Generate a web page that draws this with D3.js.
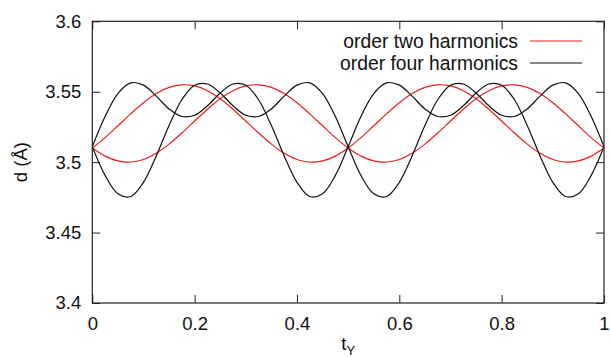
<!DOCTYPE html>
<html>
<head>
<meta charset="utf-8">
<script src="https://cdn.jsdelivr.net/npm/d3@7"></script>
<style>
  html, body { margin: 0; padding: 0; background: #fff; }
  svg { display: block; font-family: "Liberation Sans", Arial, sans-serif; }
</style>
</head>
<body>
<svg id="chart" width="610" height="357"></svg>
<script>
// Phase coordinate t_Y, sampled every 0.025
const tValues = d3.range(0, 41).map(i => +(i * 0.025).toFixed(3));

// Interatomic distance d (Å) along t_Y
const twoHarmA = [3.5100, 3.5174, 3.5258, 3.5343, 3.5422, 3.5487, 3.5531, 3.5549, 3.5541, 3.5507, 3.5450,
                  3.5376, 3.5292, 3.5207, 3.5128, 3.5063, 3.5019, 3.5001, 3.5009, 3.5043, 3.5100,
                  3.5174, 3.5258, 3.5343, 3.5422, 3.5487, 3.5531, 3.5549, 3.5541, 3.5507, 3.5450,
                  3.5376, 3.5292, 3.5207, 3.5128, 3.5063, 3.5019, 3.5001, 3.5009, 3.5043, 3.5100];
const twoHarmB = [3.5100, 3.5043, 3.5009, 3.5001, 3.5019, 3.5063, 3.5128, 3.5207, 3.5292, 3.5376, 3.5450,
                  3.5507, 3.5541, 3.5549, 3.5531, 3.5487, 3.5422, 3.5343, 3.5258, 3.5174, 3.5100,
                  3.5043, 3.5009, 3.5001, 3.5019, 3.5063, 3.5128, 3.5207, 3.5292, 3.5376, 3.5450,
                  3.5507, 3.5541, 3.5549, 3.5531, 3.5487, 3.5422, 3.5343, 3.5258, 3.5174, 3.5100];
const fourHarmA = [3.5110, 3.5324, 3.5487, 3.5563, 3.5547, 3.5469, 3.5378, 3.5324, 3.5333, 3.5400, 3.5491,
                   3.5555, 3.5546, 3.5443, 3.5260, 3.5044, 3.4857, 3.4756, 3.4775, 3.4906, 3.5110,
                   3.5324, 3.5487, 3.5563, 3.5547, 3.5469, 3.5378, 3.5324, 3.5333, 3.5400, 3.5491,
                   3.5555, 3.5546, 3.5443, 3.5260, 3.5044, 3.4857, 3.4756, 3.4775, 3.4906, 3.5110];
const fourHarmB = [3.5110, 3.4906, 3.4775, 3.4756, 3.4857, 3.5044, 3.5260, 3.5443, 3.5546, 3.5555, 3.5491,
                   3.5400, 3.5333, 3.5324, 3.5378, 3.5469, 3.5547, 3.5563, 3.5487, 3.5324, 3.5110,
                   3.4906, 3.4775, 3.4756, 3.4857, 3.5044, 3.5260, 3.5443, 3.5546, 3.5555, 3.5491,
                   3.5400, 3.5333, 3.5324, 3.5378, 3.5469, 3.5547, 3.5563, 3.5487, 3.5324, 3.5110];

const xTicks = [0, 0.2, 0.4, 0.6, 0.8, 1];
const yTicks = [3.4, 3.45, 3.5, 3.55, 3.6];
const legendLabels = ["order two harmonics", "order four harmonics"];

const seriesList = [
  { values: twoHarmA, color: "#ee1c1c" },
  { values: twoHarmB, color: "#ee1c1c" },
  { values: fourHarmA, color: "#111111" },
  { values: fourHarmB, color: "#111111" }
];

const svg = d3.select("#chart");
const plotLeft = 92.3, plotRight = 604, plotTop = 21.3, plotBottom = 303;

const x = d3.scaleLinear().domain([0, 1]).range([plotLeft, plotRight]);
const y = d3.scaleLinear().domain([3.4, 3.6]).range([plotBottom, plotTop]);

const axisColor = "#222";
const tickLen = 8;
const fontSize = 18.5;

// Curves
const line = d3.line()
  .x((d, i) => x(tValues[i]))
  .y(d => y(d))
  .curve(d3.curveCatmullRom.alpha(0.5));

svg.append("defs").append("clipPath").attr("id", "clip")
  .append("rect").attr("x", plotLeft).attr("y", plotTop)
  .attr("width", plotRight - plotLeft).attr("height", plotBottom - plotTop);

svg.append("g").attr("clip-path", "url(#clip)")
  .selectAll("path").data(seriesList).join("path")
  .attr("d", s => line(s.values))
  .attr("fill", "none")
  .attr("stroke", s => s.color)
  .attr("stroke-width", 1.2);

// Axes with inward ticks on all four sides
const axisBottom = d3.axisBottom(x).tickValues(xTicks).tickSize(-tickLen).tickPadding(14)
  .tickFormat(d => d3.format("")(d));
const axisTop = d3.axisTop(x).tickValues(xTicks).tickSize(-tickLen).tickFormat("");
const axisLeft = d3.axisLeft(y).tickValues(yTicks).tickSize(-tickLen).tickPadding(11)
  .tickFormat(d => d3.format("")(+d.toFixed(2)));
const axisRight = d3.axisRight(y).tickValues(yTicks).tickSize(-tickLen).tickFormat("");

function styleAxis(g) {
  g.select(".domain").remove();
  g.selectAll(".tick line").attr("stroke", axisColor).attr("stroke-width", 1);
  g.selectAll(".tick text").attr("fill", "#111").attr("font-size", fontSize)
    .attr("font-family", "Liberation Sans, Arial, sans-serif");
}

svg.append("g").attr("transform", `translate(0,${plotBottom})`).call(axisBottom).call(styleAxis);
svg.append("g").attr("transform", `translate(0,${plotTop})`).call(axisTop).call(styleAxis);
svg.append("g").attr("transform", `translate(${plotLeft},0)`).call(axisLeft).call(styleAxis);
svg.append("g").attr("transform", `translate(${plotRight},0)`).call(axisRight).call(styleAxis);

// Frame
svg.append("rect")
  .attr("x", plotLeft).attr("y", plotTop)
  .attr("width", plotRight - plotLeft).attr("height", plotBottom - plotTop)
  .attr("fill", "none").attr("stroke", axisColor).attr("stroke-width", 1.2);

// Legend
const legendColors = ["#ee1c1c", "#111111"];
const legend = svg.append("g");
legendLabels.forEach((label, i) => {
  const ly = 41 + i * 22;
  legend.append("text")
    .attr("x", 518).attr("y", ly).attr("dy", "0.35em")
    .attr("text-anchor", "end")
    .attr("font-size", 19.3).attr("fill", "#111")
    .text(label);
  legend.append("line")
    .attr("x1", 530).attr("x2", 582).attr("y1", ly).attr("y2", ly)
    .attr("stroke", legendColors[i]).attr("stroke-width", 1.2);
});

// Axis titles
const xTitle = svg.append("text")
  .attr("x", (plotLeft + plotRight) / 2).attr("y", 350)
  .attr("text-anchor", "middle")
  .attr("font-size", fontSize).attr("fill", "#111");
xTitle.append("tspan").text("t");
xTitle.append("tspan").attr("font-size", 13).attr("dy", 5).text("Y");

svg.append("text")
  .attr("transform", `translate(27,${(plotTop + plotBottom) / 2}) rotate(-90)`)
  .attr("text-anchor", "middle")
  .attr("font-size", fontSize).attr("fill", "#111")
  .text("d (Å)");
</script>
</body>
</html>
